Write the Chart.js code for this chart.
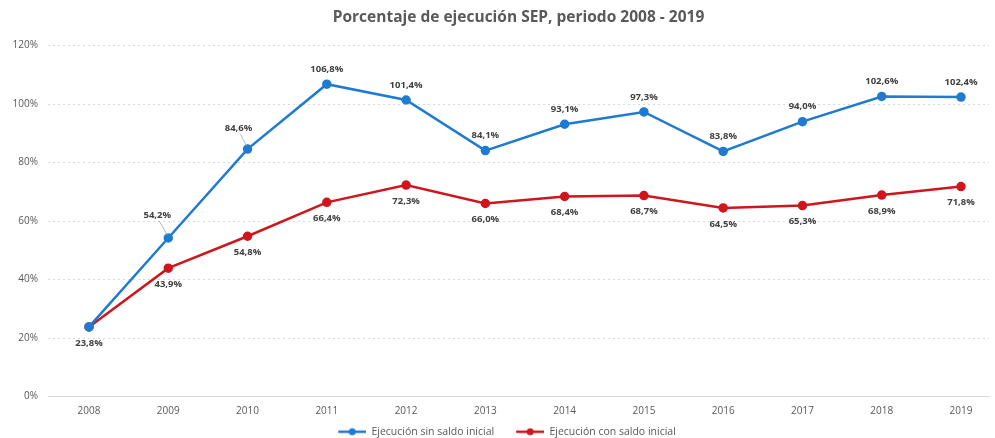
<!DOCTYPE html>
<html>
<head>
<meta charset="utf-8">
<script src="https://cdn.jsdelivr.net/npm/chart.js@4"></script>
<style>
    html, body { margin: 0; padding: 0; background: #fff; }
    #wrap { width: 995px; height: 438px; }
</style>
</head>
<body>
<div id="wrap"><canvas id="chart"></canvas></div>
<script>
    "use strict";
    const years = [2008, 2009, 2010, 2011, 2012, 2013, 2014, 2015, 2016, 2017, 2018, 2019];
    const sinSaldo = [23.8, 54.2, 84.6, 106.8, 101.4, 84.1, 93.1, 97.3, 83.8, 94.0, 102.6, 102.4];
    const conSaldo = [23.8, 43.9, 54.8, 66.4, 72.3, 66.0, 68.4, 68.7, 64.5, 65.3, 68.9, 71.8];
    const yTicks = [0, 20, 40, 60, 80, 100, 120];

    const BLUE = "#1f7bd2";
    const RED = "#d0161d";
    const textColor = "#595959";
    const FONT = "'Open Sans', sans-serif";

    const fmt = (v) => v.toFixed(1).replace(".", ",") + "%";

    // legend marker: line with a dot, blank space on the left keeps items apart
    function marker(color) {
        const c = document.createElement("canvas");
        c.width = 42; c.height = 10;
        const g = c.getContext("2d");
        g.strokeStyle = color; g.lineWidth = 2.5;
        g.beginPath(); g.moveTo(14, 5); g.lineTo(42, 5); g.stroke();
        g.fillStyle = color;
        g.beginPath(); g.arc(28, 5, 3.5, 0, Math.PI * 2); g.fill();
        return c;
    }

    const labelPlugin = {
        id: "valueLabels",
        afterDatasetsDraw(chart) {
            const ctx = chart.ctx;
            ctx.save();
            ctx.font = "bold 9.5px " + FONT;
            ctx.fillStyle = "#404040";
            ctx.textAlign = "center";
            ctx.textBaseline = "middle";
            chart.data.datasets.forEach((ds, di) => {
                chart.getDatasetMeta(di).data.forEach((pt, i) => {
                    if (di === 0 && i === 0) return;
                    let lx = pt.x, ly = di === 0 ? pt.y - 15 : pt.y + 16;
                    if (di === 0 && (i === 1 || i === 2)) {
                        lx = pt.x - (i === 1 ? 11 : 9);
                        ly = pt.y - (i === 1 ? 23 : 21);
                        ctx.strokeStyle = "#a6a6a6";
                        ctx.lineWidth = 0.8;
                        ctx.beginPath();
                        ctx.moveTo(lx + 2, ly + 6);
                        ctx.lineTo(pt.x - 1, pt.y - 3);
                        ctx.stroke();
                    }
                    ctx.fillText(fmt(ds.data[i].y), lx, ly);
                });
            });
            ctx.restore();
        }
    };

    new Chart(document.getElementById("chart"), {
        type: "line",
        data: {
            datasets: [
                { label: "Ejecución sin saldo inicial", data: years.map((y, i) => ({ x: y, y: sinSaldo[i] })),
                  borderColor: BLUE, backgroundColor: BLUE, borderWidth: 2.5, pointRadius: 3.5, pointHoverRadius: 3.5 },
                { label: "Ejecución con saldo inicial", data: years.map((y, i) => ({ x: y, y: conSaldo[i] })),
                  borderColor: RED, backgroundColor: RED, borderWidth: 2.5, pointRadius: 3.5, pointHoverRadius: 3.5 },
            ],
        },
        options: {
            responsive: true,
            maintainAspectRatio: false,
            animation: false,
            events: [],
            layout: { padding: { left: 10, right: 5, top: 0, bottom: -9 } },
            plugins: {
                title: {
                    display: true, text: "Porcentaje de ejecución SEP, periodo 2008 - 2019", fullSize: false,
                    color: textColor, font: { family: FONT, size: 15.5, weight: "bold" },
                    padding: { top: 8, bottom: 19 },
                },
                legend: {
                    position: "bottom",
                    labels: {
                        color: textColor, font: { family: FONT, size: 10.5 }, padding: 8, boxHeight: 10, pointStyleWidth: 42,
                        generateLabels: (chart) => chart.data.datasets.map((ds, i) => ({
                            text: ds.label, pointStyle: marker(ds.borderColor), fillStyle: ds.borderColor,
                            strokeStyle: ds.borderColor, lineWidth: 0, datasetIndex: i, fontColor: textColor,
                        })),
                        usePointStyle: true,
                    },
                },
                tooltip: { enabled: false },
            },
            scales: {
                x: {
                    type: "linear", min: 2007.483, max: 2019.353,
                    afterBuildTicks: (s) => { s.ticks = years.map((v) => ({ value: v })); },
                    afterFit: (s) => { s.height = 22; },
                    ticks: { color: textColor, font: { family: FONT, size: 10 }, padding: 9, autoSkip: false, maxRotation: 0, callback: (v) => String(v) },
                    grid: { display: false, drawTicks: false },
                    border: { display: true, color: "#d9d9d9", width: 1 },
                },
                y: {
                    min: 0, max: 120,
                    afterBuildTicks: (s) => { s.ticks = yTicks.map((v) => ({ value: v })); },
                    afterFit: (s) => { s.width = 38; },
                    ticks: { color: textColor, font: { family: FONT, size: 10 }, padding: 10, callback: (v) => v + "%" },
                    grid: { color: (c) => c.tick.value === 0 ? "rgba(0,0,0,0)" : "#d9d9d9", lineWidth: 1, drawTicks: false },
                    border: { display: false, dash: [2, 3] },
                },
            },
        },
        plugins: [labelPlugin],
    });
</script>
</body>
</html>
